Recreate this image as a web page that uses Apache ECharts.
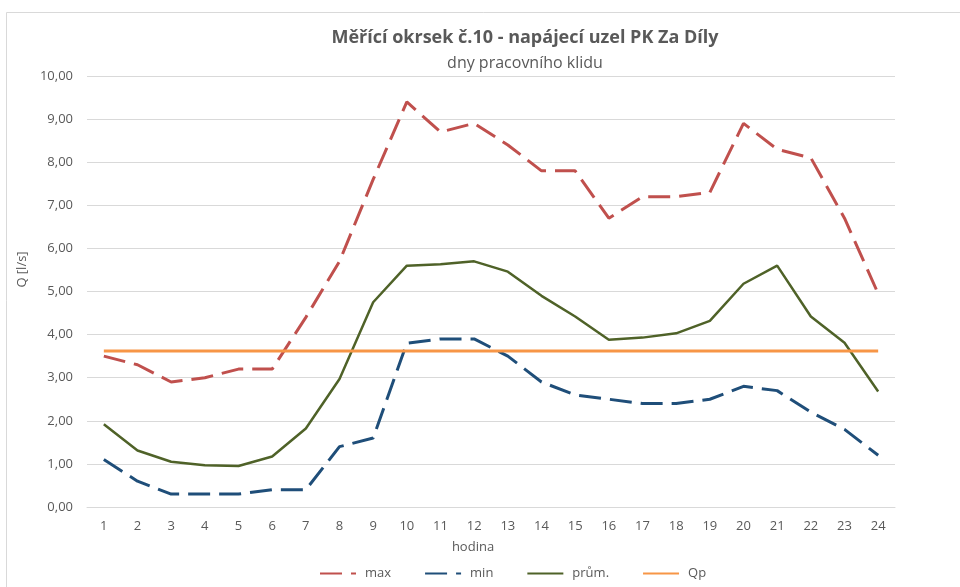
<!DOCTYPE html>
<html>
<head>
<meta charset="utf-8">
<script src="https://cdn.jsdelivr.net/npm/echarts@6/dist/echarts.min.js"></script>
<style>
  html, body { margin: 0; padding: 0; background: #ffffff; }
  #chart { width: 960px; height: 587px; }
</style>
</head>
<body>
<div id="chart"></div>
<script>
// Hodinové průtoky – dny pracovního klidu
const hours = ['1','2','3','4','5','6','7','8','9','10','11','12','13','14','15','16','17','18','19','20','21','22','23','24'];
const qMax  = [3.5, 3.3, 2.9, 3.0, 3.2, 3.2, 4.4, 5.7, 7.6, 9.4, 8.7, 8.9, 8.4, 7.8, 7.8, 6.7, 7.2, 7.2, 7.3, 8.9, 8.3, 8.1, 6.7, 4.95];
const qMin  = [1.1, 0.6, 0.3, 0.3, 0.3, 0.4, 0.4, 1.4, 1.6, 3.8, 3.9, 3.9, 3.5, 2.9, 2.6, 2.5, 2.4, 2.4, 2.5, 2.8, 2.7, 2.2, 1.8, 1.2];
const qAvg  = [1.92, 1.31, 1.05, 0.97, 0.95, 1.17, 1.82, 2.97, 4.75, 5.6, 5.63, 5.7, 5.46, 4.9, 4.42, 3.88, 3.93, 4.03, 4.32, 5.18, 5.6, 4.42, 3.81, 2.68];
const qP    = [3.62, 3.62, 3.62, 3.62, 3.62, 3.62, 3.62, 3.62, 3.62, 3.62, 3.62, 3.62, 3.62, 3.62, 3.62, 3.62, 3.62, 3.62, 3.62, 3.62, 3.62, 3.62, 3.62, 3.62];
const seriesNames = ['max', 'min', 'prům.', 'Qp'];

const FONT = '"Open Sans", sans-serif';
const GREY = '#595959';

const chart = echarts.init(document.getElementById('chart'), null, { renderer: 'canvas' });

function lineSeries(name, data, color, width, dashed) {
  return {
    name: name,
    type: 'line',
    data: data,
    symbol: 'none',
    showSymbol: false,
    smooth: false,
    lineStyle: { color: color, width: width, type: dashed ? [22, 9] : 'solid', cap: 'butt' },
    itemStyle: { color: color },
    emphasis: { disabled: true },
    animation: false
  };
}

chart.setOption({
  backgroundColor: '#ffffff',
  animation: false,
  graphic: [{
    type: 'rect',
    shape: { x: 6.5, y: 12.5, width: 1200, height: 1200 },
    style: { fill: 'none', stroke: '#d9d9d9', lineWidth: 1 },
    silent: true
  }],
  title: {
    text: 'Měřící okrsek č.10 - napájecí uzel PK Za Díly',
    subtext: 'dny pracovního klidu',
    left: 520,
    top: 24,
    textAlign: 'center',
    itemGap: 8,
    textStyle: { fontFamily: FONT, fontSize: 18, fontWeight: 'bold', color: GREY },
    subtextStyle: { fontFamily: FONT, fontSize: 16, color: GREY }
  },
  grid: { left: 87, right: 65, top: 76, bottom: 80, containLabel: false },
  xAxis: {
    type: 'category',
    data: hours,
    boundaryGap: true,
    name: 'hodina',
    nameLocation: 'middle',
    nameGap: 34,
    nameTextStyle: { fontFamily: FONT, fontSize: 13, color: GREY, padding: [0, 36, 0, 0] },
    axisLine: { show: true, lineStyle: { color: '#d9d9d9', width: 1 } },
    axisTick: { show: false },
    axisLabel: { fontFamily: FONT, fontSize: 13, color: GREY, margin: 13 },
    splitLine: { show: false }
  },
  yAxis: {
    type: 'value',
    min: 0,
    max: 10,
    interval: 1,
    name: 'Q [l/s]',
    nameLocation: 'middle',
    nameGap: 57,
    nameRotate: 90,
    nameTextStyle: { fontFamily: FONT, fontSize: 13, color: GREY, padding: [0, 0, 0, 44] },
    axisLine: { show: false },
    axisTick: { show: false },
    axisLabel: {
      fontFamily: FONT, fontSize: 13, color: GREY, margin: 14,
      formatter: v => v.toFixed(2).replace('.', ',')
    },
    splitLine: { show: true, lineStyle: { color: '#d9d9d9', width: 1 } }
  },
  legend: {
    bottom: 2,
    left: 314,
    itemWidth: 36,
    itemHeight: 12,
    itemGap: 33,
    data: seriesNames,
    itemStyle: { color: 'transparent', borderWidth: 0, opacity: 0 },
    textStyle: { fontFamily: FONT, fontSize: 13, color: GREY, padding: [0, 0, 0, 4] },
    selectedMode: false
  },
  series: [
    lineSeries(seriesNames[0], qMax, '#C0504D', 3, true),
    lineSeries(seriesNames[1], qMin, '#1F4E79', 3, true),
    lineSeries(seriesNames[2], qAvg, '#4F6228', 2.5, false),
    lineSeries(seriesNames[3], qP, '#F79646', 3, false)
  ]
});
</script>
</body>
</html>
